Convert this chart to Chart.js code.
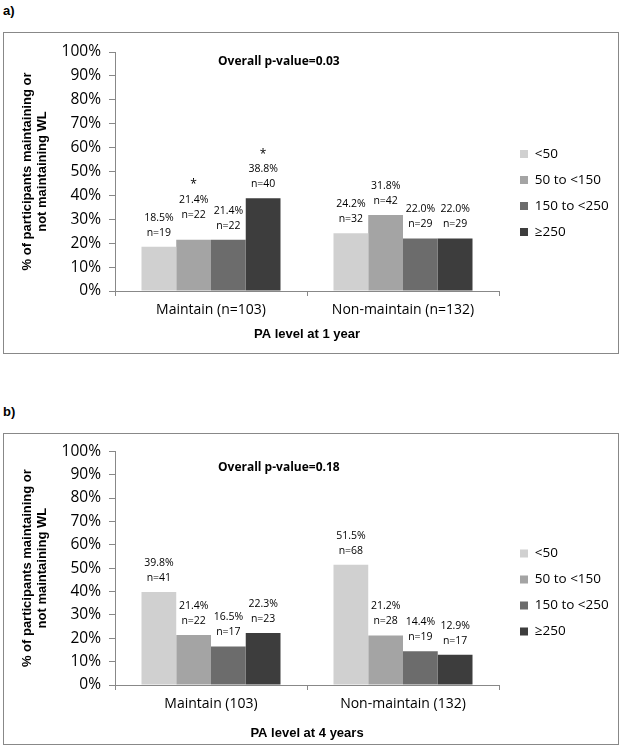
<!DOCTYPE html>
<html>
<head>
<meta charset="utf-8">
<script src="https://cdn.jsdelivr.net/npm/chart.js@4.4.1/dist/chart.umd.min.js"></script>
<style>
  body { margin: 0; background: #fff; width: 622px; height: 754px; position: relative; overflow: hidden; }
  .tag { position: absolute; left: 3px; font: bold 13px "Liberation Sans", Arial, sans-serif; color: #000; }
  .box { position: absolute; left: 3px; width: 614px; border: 1px solid #888; background: #fff; }
  canvas { display: block; }
</style>
</head>
<body>
<div class="tag" style="top:3px">a)</div>
<div class="box" style="top:32px;height:320px"><canvas id="chart1" width="614" height="320"></canvas></div>
<div class="tag" style="top:404px">b)</div>
<div class="box" style="top:433px;height:310px"><canvas id="chart2" width="614" height="310"></canvas></div>

<script>
// Categories and legend
const groups1 = ["Maintain (n=103)", "Non-maintain (n=132)"];
const groups4 = ["Maintain (103)", "Non-maintain (132)"];
const levels = ["<50", "50 to <150", "150 to <250", "≥250"];
const shades = ["#d0d0d0", "#a4a4a4", "#6c6c6c", "#3d3d3d"];

// PA level at 1 year: % per level, [Maintain, Non-maintain]
const year1Pct = [[18.5, 24.2], [21.4, 31.8], [21.4, 22.0], [38.8, 22.0]];
const year1N = [[19, 32], [22, 42], [22, 29], [40, 29]];
const year1Star = [[false, false], [true, false], [false, false], [true, false]];

// PA level at 4 years
const year4Pct = [[39.8, 51.5], [21.4, 21.2], [16.5, 14.4], [22.3, 12.9]];
const year4N = [[41, 68], [22, 28], [17, 19], [23, 17]];
const year4Star = [[false, false], [false, false], [false, false], [false, false]];

const gridGray = "#888888";

// Labels above bars + overall p-value note
const barNotes = {
  id: "barNotes",
  afterDatasetsDraw(chart, args, opts) {
    const ctx = chart.ctx;
    ctx.save();
    ctx.fillStyle = "#000";
    ctx.textAlign = "center";
    ctx.textBaseline = "middle";
    chart.data.datasets.forEach((ds, i) => {
      chart.getDatasetMeta(i).data.forEach((bar, j) => {
        const lift = (opts.lift[i] && opts.lift[i][j]) || 0;
        const top = bar.y - lift;
        ctx.font = "10.5px 'Open Sans'";
        ctx.fillText(ds.data[j].toFixed(1) + "%", bar.x, top - 29);
        ctx.fillText("n=" + ds.counts[j], bar.x, top - 14);
        if (ds.stars[j]) {
          ctx.font = "12px 'Open Sans'";
          ctx.fillText("*", bar.x, top - 44);
        }
      });
    });
    ctx.font = "bold 12px 'Open Sans'";
    ctx.textAlign = "left";
    ctx.fillText(opts.note, chart.chartArea.left + opts.noteX, chart.chartArea.top + opts.noteY);
    ctx.restore();
  }
};

// invisible axis used only as a gap
function gapAxis(pos, size) {
  return {
    type: pos === "top" ? "category" : "linear",
    position: pos,
    display: true,
    grid: { display: false },
    border: { display: false },
    ticks: { display: false },
    afterFit(scale) {
      if (pos === "top") scale.height = size; else scale.width = size;
    }
  };
}

function makeChart(id, groups, pcts, counts, stars, xTitle, opts) {
  const datasets = levels.map((lvl, i) => ({
    label: lvl,
    data: pcts[i],
    counts: counts[i],
    stars: stars[i],
    backgroundColor: shades[i],
    borderWidth: 0,
    categoryPercentage: 0.724,
    barPercentage: 1.0
  }));

  return new Chart(document.getElementById(id), {
    type: "bar",
    data: { labels: groups, datasets: datasets },
    plugins: [barNotes],
    options: {
      responsive: false,
      animation: false,
      devicePixelRatio: 1,
      layout: { padding: { top: opts.padTop, right: 9.8, bottom: 0, left: 0 } },
      plugins: {
        tooltip: { enabled: false },
        legend: {
          position: "right",
          labels: {
            color: "#000",
            boxWidth: 8,
            boxHeight: 8,
            padding: 12.5,
            font: { family: "'Open Sans'", size: 13.5 }
          }
        },
        barNotes: { lift: opts.lift, note: opts.note, noteX: 103, noteY: opts.noteY }
      },
      scales: {
        x: {
          grid: { drawOnChartArea: false, offset: true, tickLength: 5, color: gridGray },
          border: { color: gridGray },
          ticks: { color: "#000", padding: 6, font: { family: "'Open Sans'", size: 14 } },
          title: {
            display: true,
            text: xTitle,
            color: "#000",
            font: { family: "'Liberation Sans'", weight: "bold", size: 13 },
            padding: { top: 0, bottom: opts.titlePad }
          },
          afterFit(scale) { scale.height = opts.xHeight; }
        },
        y: {
          min: 0,
          max: 100,
          grid: { drawOnChartArea: false, tickLength: 6, color: gridGray },
          border: { color: gridGray },
          ticks: {
            stepSize: 10,
            color: "#000",
            padding: 8,
            font: { family: "'Open Sans'", size: 15.5 },
            callback: (v) => v + "%"
          },
          title: {
            display: true,
            text: ["% of participants maintaining or", "not maintaining WL"],
            color: "#000",
            font: { family: "'Liberation Sans'", weight: "bold", size: 13, lineHeight: 1.15 },
            padding: { top: 16, bottom: 0 }
          },
          afterFit(scale) { scale.width = 111; }
        },
        gapTop: gapAxis("top", opts.top),
        gapRight: gapAxis("right", 8.5)
      }
    }
  });
}

makeChart("chart1", groups1, year1Pct, year1N, year1Star, "PA level at 1 year",
  { padTop: 0, top: 19, xHeight: 62, titlePad: 10.5, note: "Overall p-value=0.03", noteY: 10,
    lift: [[0, 0], [11, 0], [0, 0], [0, 0]] });

makeChart("chart2", groups4, year4Pct, year4N, year4Star, "PA level at 4 years",
  { padTop: 7, top: 10, xHeight: 59, titlePad: 2.5, note: "Overall p-value=0.18", noteY: 16,
    lift: [] });
</script>
</body>
</html>
